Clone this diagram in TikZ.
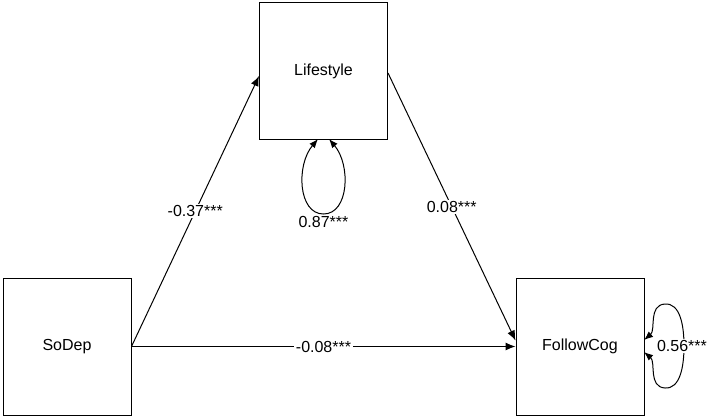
\documentclass[tikz,border=0pt]{standalone}
\usepackage{fontspec}
\setmainfont{Liberation Sans}
\usetikzlibrary{arrows.meta}
\begin{document}
\begin{tikzpicture}[x=1pt,y=-1pt,
  varbox/.style={draw,line width=1pt,minimum width=128pt,minimum height=137pt,inner sep=0pt,font=\fontsize{16}{19}\selectfont},
  path/.style={line width=1pt,-{Latex[length=10pt,width=8pt]}},
  loop/.style={line width=1pt,{Latex[length=9pt,width=7pt]}-{Latex[length=9pt,width=7pt]}},
  coef/.style={fill=white,inner sep=1.5pt,font=\fontsize{16}{19}\selectfont}]
\useasboundingbox (0,0) rectangle (711,418);
\node[varbox] (L) at (323.5,71) {Lifestyle};
\node[varbox] (S) at (67,346.5) {SoDep};
\node[varbox] (F) at (580,346.5) {FollowCog};
% self loops
\coordinate (la) at (318,139);
\coordinate (lb) at (329,139);
\coordinate (fa) at (644,340);
\coordinate (fb) at (644,352);
\draw[loop] (la) .. controls (296,165) and (298,214) .. (323.5,214) .. controls (349,214) and (351,165) .. (lb);
\node[coef] (vl) at (323.5,222) {0.87***};
\draw[loop] (fa) .. controls (656,330) and (648,305) .. (665,304) .. controls (680,303) and (684,325) .. (684,346) .. controls (684,367) and (680,389) .. (665,388) .. controls (648,387) and (656,362) .. (fb);
\node[coef] (vf) at (682,346) {0.56***};
% paths
\draw[path] (S.east) -- node[coef] (c1) {-0.37***} ([yshift=-5pt]L.west);
\draw[path] ([yshift=-2pt]L.east) -- node[coef] (c2) {0.08***} ([yshift=6pt]F.west);
\draw[path] (S.east) -- node[coef] (c3) {-0.08***} (F.west);
\end{tikzpicture}
\end{document}
